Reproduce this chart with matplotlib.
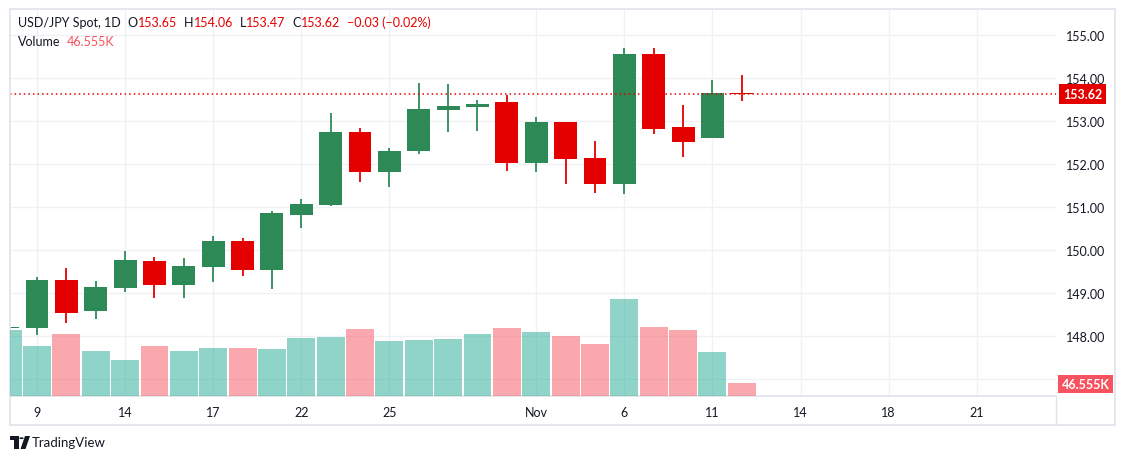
import matplotlib
matplotlib.use("Agg")
import matplotlib.pyplot as plt
import matplotlib.transforms as mtransforms
from matplotlib.patches import Rectangle, Polygon, Circle
import numpy as np

plt.rcParams['font.family'] = ['Lato', 'DejaVu Sans']

# ---------------- data ----------------
dates = ['10-08', '10-09', '10-10', '10-11', '10-14', '10-15', '10-16', '10-17', '10-18',
         '10-21', '10-22', '10-23', '10-24', '10-25', '10-28', '10-29', '10-30', '10-31',
         '11-01', '11-04', '11-05', '11-06', '11-07', '11-08', '11-11', '11-12']
opens = [148.17, 148.19, 149.30, 148.57, 149.12, 149.74, 149.17, 149.61, 150.21,
         149.52, 150.82, 151.05, 152.74, 151.82, 152.29, 153.26, 153.33, 153.43,
         152.01, 152.98, 152.14, 151.52, 154.56, 152.86, 152.61, 153.65]
highs = [148.19, 149.37, 149.58, 149.28, 149.98, 149.84, 149.81, 150.33, 150.28,
         150.91, 151.19, 153.19, 152.84, 152.37, 153.88, 153.86, 153.49, 153.60,
         153.09, 152.98, 152.53, 154.70, 154.70, 153.37, 153.95, 154.06]
lows = [148.17, 148.03, 148.29, 148.40, 149.03, 148.87, 148.87, 149.24, 149.38,
        149.10, 150.51, 151.03, 151.57, 151.45, 152.22, 152.75, 152.77, 151.84,
        151.80, 151.54, 151.33, 151.29, 152.70, 152.15, 152.61, 153.47]
closes = [148.19, 149.30, 148.54, 149.14, 149.77, 149.17, 149.63, 150.21, 149.52,
          150.85, 151.07, 152.74, 151.80, 152.30, 153.28, 153.35, 153.40, 152.01,
          152.98, 152.12, 151.52, 154.56, 152.82, 152.50, 153.65, 153.62]
volumes_k = [236, 179, 222, 161, 129, 179, 161, 172, 172, 168, 208, 211, 240, 197,
             200, 204, 222, 243, 229, 215, 186, 347, 247, 236, 158, 46.555]

# x tick positions are bar slots (future slots continue past last bar)
xtick_slots = [1, 4, 7, 10, 13, 18, 21, 24, 27, 30, 33]
xtick_labels = ['9', '14', '17', '22', '25', 'Nov', '6', '11', '14', '18', '21']
price_ticks = [147, 148, 149, 150, 151, 152, 153, 154, 155]
last_price = 153.62
# header groups: (label, value)
header_groups = [("USD/JPY Spot, 1D", ""), ("O", "153.65"), ("H", "154.06"),
                 ("L", "153.47"), ("C", "153.62"), ("", "\u22120.03 (\u22120.02%)")]

# ---------------- style ----------------
W, H = 1125, 460
GREEN = '#2d8a56'
RED = '#e50000'
VOL_UP = '#22ab94'
VOL_DN = '#f7525f'
GRID = '#f0f1f4'
TXT = '#131722'
BORDER = '#e0e3eb'

fig = plt.figure(figsize=(W / 100, H / 100), dpi=100)
fig.patch.set_facecolor('white')

def fx(x):
    return x / W

def fy(y):
    return 1 - y / H

L, R, T, B = 10, 1056, 10, 397
ax = fig.add_axes([fx(L), fy(B), fx(R - L), (B - T) / H])
ax.set_zorder(0)
ax.set_facecolor('white')

idx = np.arange(len(dates))
for i in idx:
    o, c, h, l = opens[i], closes[i], highs[i], lows[i]
    col = GREEN if c >= o else RED
    ax.vlines(i, l, h, color=col, linewidth=1.3, zorder=3)
    lo, hi = min(o, c), max(o, c)
    ax.add_patch(Rectangle((i - 0.39, lo), 0.78, max(hi - lo, 0.035),
                           facecolor=col, edgecolor='none', zorder=4))

ax.axhline(last_price, color=RED, linestyle=(0, (1, 2)), linewidth=1.1, zorder=5)

ax.set_xlim(0.08, 35.7)
ax.set_ylim(146.60, 155.60)
ax.set_xticks(xtick_slots)
ax.set_xticklabels(xtick_labels)
ax.grid(True, color=GRID, linewidth=1)
ax.set_axisbelow(True)
for s in ['top', 'left', 'right']:
    ax.spines[s].set_visible(False)
ax.spines['bottom'].set_color(BORDER)
ax.spines['bottom'].set_linewidth(1.2)

# volume overlay
axv = ax.twinx()
axv.set_zorder(1)
axv.patch.set_visible(False)
vcols = [VOL_UP if closes[i] >= opens[i] else VOL_DN for i in idx]
axv.bar(idx, volumes_k, width=0.95, color=vcols, alpha=0.5, linewidth=0, zorder=1)
axv.set_ylim(0, 1386)
axv.set_yticks([])
for s in axv.spines.values():
    s.set_visible(False)

# price scale on the right (after twinx, which resets ticks to the left)
ax.set_yticks(price_ticks)
ax.set_yticklabels([f"{p:.2f}" for p in price_ticks])
ax.yaxis.tick_right()
ax.tick_params(axis='both', length=0, labelsize=9, labelcolor=TXT)
ax.tick_params(axis='y', pad=7, labelleft=False, labelright=True)
ax.tick_params(axis='x', pad=7)

# price label box
trans = mtransforms.blended_transform_factory(ax.transAxes, ax.transData)
axv.annotate(f"{last_price:.2f}", xy=(1.0, last_price), xycoords=trans,
             xytext=(5, 0), textcoords='offset points', ha='left', va='center',
             fontsize=9, color='white', fontweight='bold', annotation_clip=False,
             bbox=dict(boxstyle='square,pad=0.3', fc=RED, ec='none'), zorder=10)
# volume label box
transv = mtransforms.blended_transform_factory(axv.transAxes, axv.transData)
axv.annotate(f"{volumes_k[-1]:.3f}K", xy=(1.0, volumes_k[-1] / 2 + 20), xycoords=transv,
             xytext=(4, 0), textcoords='offset points', ha='left', va='center',
             fontsize=9, color='white', fontweight='bold', annotation_clip=False,
             bbox=dict(boxstyle='square,pad=0.25', fc=VOL_DN, ec='none'), zorder=10)

# outer border
fig.add_artist(Rectangle((fx(10), fy(426)), fx(1105), (426 - 9.5) / H, transform=fig.transFigure,
                         fill=False, edgecolor=BORDER, linewidth=1.2))
fig.add_artist(plt.Line2D([fx(R), fx(R)], [fy(397), fy(426)], transform=fig.transFigure,
                          color=BORDER, linewidth=1))

# header
fig.canvas.draw()
rend = fig.canvas.get_renderer()
xpos = 18
for lab, val in header_groups:
    if lab:
        t = fig.text(fx(xpos), fy(23), lab, fontsize=9, va='center', ha='left', color=TXT)
        xpos += t.get_window_extent(rend).width
    if val:
        t = fig.text(fx(xpos), fy(23), val, fontsize=9, va='center', ha='left', color=RED)
        xpos += t.get_window_extent(rend).width
    xpos += 7
t = fig.text(fx(18), fy(42), "Volume", fontsize=9, va='center', ha='left', color=TXT)
bb = t.get_window_extent(rend)
fig.text(fx(18 + 6) + bb.width / W, fy(42), f"{volumes_k[-1]:.3f}K", fontsize=9,
         va='center', ha='left', color=VOL_DN)

# TradingView logo
fig.add_artist(Polygon([(fx(9.5), fy(437)), (fx(18.5), fy(437)), (fx(18.5), fy(450)),
                        (fx(14), fy(450)), (fx(14), fy(441)), (fx(9.5), fy(441))],
                       closed=True, transform=fig.transFigure, facecolor=TXT, edgecolor='none'))
fig.add_artist(Circle((fx(21.5), fy(439.2)), 2.2 / W, transform=fig.transFigure,
                      facecolor=TXT, edgecolor='none'))
fig.add_artist(Polygon([(fx(25), fy(437)), (fx(30), fy(437)), (fx(25.5), fy(450)), (fx(20.5), fy(450))],
                       closed=True, transform=fig.transFigure, facecolor=TXT, edgecolor='none'))
fig.text(fx(32), fy(443.5), "TradingView", fontsize=9.5, va='center', ha='left', color=TXT)

fig.savefig('out.png', dpi=100, facecolor='white')
